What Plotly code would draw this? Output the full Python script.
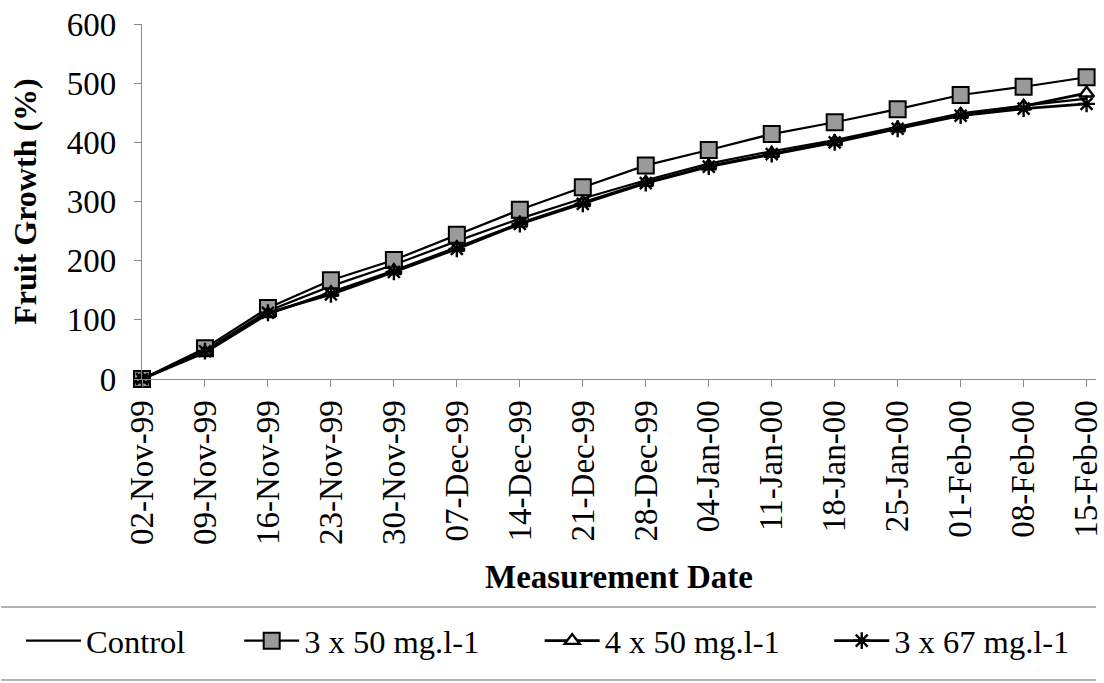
import plotly.graph_objects as go

# Measurement dates (category axis)
dates = ["02-Nov-99", "09-Nov-99", "16-Nov-99", "23-Nov-99", "30-Nov-99",
         "07-Dec-99", "14-Dec-99", "21-Dec-99", "28-Dec-99", "04-Jan-00",
         "11-Jan-00", "18-Jan-00", "25-Jan-00", "01-Feb-00", "08-Feb-00",
         "15-Feb-00"]

# Fruit growth (%) per treatment
control = [0, 48, 115, 157, 193, 233, 271, 305, 336, 364, 385, 404, 426, 449, 462, 474]
t3x50 = [0, 52, 120, 167, 201, 244, 286, 324, 361, 387, 414, 434, 456, 480, 494, 510]
t4x50 = [0, 45, 110, 146, 183, 222, 263, 298, 332, 360, 381, 401, 424, 447, 461, 483]
t3x67 = [0, 47, 112, 143, 181, 220, 262, 296, 331, 359, 380, 400, 423, 445, 457, 465]

y_ticks = [0, 100, 200, 300, 400, 500, 600]

FONT = "'Liberation Serif', 'Times New Roman', 'DejaVu Serif', serif"
W, H = 1104, 683
L, T, B = 142, 24, 304
plot_w = W - L
plot_h = H - T - B

fig = go.Figure()

fig.add_trace(go.Scatter(
    x=dates, y=control, name="Control", mode="lines",
    line=dict(color="black", width=2.2), cliponaxis=False, legend="legend"))
fig.add_trace(go.Scatter(
    x=dates, y=t3x50, name="3 x 50 mg.l-1", mode="lines+markers",
    line=dict(color="black", width=2.2),
    marker=dict(symbol="square", size=16, color="#9a9a9a",
                line=dict(color="black", width=2)),
    cliponaxis=False, legend="legend2"))
fig.add_trace(go.Scatter(
    x=dates, y=t4x50, name="4 x 50 mg.l-1", mode="lines+markers",
    line=dict(color="black", width=2.8),
    marker=dict(symbol="triangle-up", size=13, color="white",
                line=dict(color="black", width=2.4)),
    cliponaxis=False, legend="legend3"))
fig.add_trace(go.Scatter(
    x=dates, y=t3x67, name="3 x 67 mg.l-1", mode="lines+markers",
    line=dict(color="black", width=2.8),
    marker=dict(symbol="asterisk-open", size=14,
                line=dict(color="black", width=2.4)),
    cliponaxis=False, legend="legend4"))

step = 63.5
x_max = plot_w / step


def px_x(px):
    return (px - L) / plot_w


def px_y(py):
    return (H - B - py) / plot_h


leg_common = dict(orientation="h", yanchor="middle", xanchor="left",
                  font=dict(family=FONT, size=32.5, color="black"),
                  bgcolor="rgba(0,0,0,0)", itemwidth=55,
                  itemclick=False, itemdoubleclick=False)
leg_y = px_y(641)

fig.update_layout(
    width=W, height=H,
    margin=dict(l=L, r=0, t=T, b=B, pad=0),
    paper_bgcolor="white", plot_bgcolor="white",
    font=dict(family=FONT, size=33, color="black"),
    xaxis=dict(
        type="category", range=[0, x_max],
        showline=True, linecolor="#8a8a8a", linewidth=1.2,
        ticks="outside", ticklen=7, tickcolor="#8a8a8a", tickwidth=1.2,
        tickangle=-90, tickfont=dict(family=FONT, size=33, color="black"),
        showgrid=False, zeroline=False,
        title=dict(text="<b>Measurement Date</b>", standoff=20,
                   font=dict(family=FONT, size=33, color="black")),
    ),
    yaxis=dict(
        range=[0, 600], tickvals=y_ticks,
        showline=True, linecolor="#8a8a8a", linewidth=1.2,
        ticks="outside", ticklen=7, tickcolor="#8a8a8a", tickwidth=1.2,
        ticklabelstandoff=11,
        tickfont=dict(family=FONT, size=33, color="black"),
        showgrid=False, zeroline=False,
        title=dict(text="<b>Fruit Growth (%)</b>", standoff=20,
                   font=dict(family=FONT, size=32, color="black")),
    ),
    showlegend=True,
    legend=dict(x=px_x(20), y=leg_y, **leg_common),
    legend2=dict(x=px_x(240), y=leg_y, **leg_common),
    legend3=dict(x=px_x(543), y=leg_y, **leg_common),
    legend4=dict(x=px_x(835), y=leg_y, **leg_common),
    shapes=[
        dict(type="line", xref="paper", yref="paper",
             x0=px_x(0), x1=1, y0=px_y(607), y1=px_y(607),
             line=dict(color="#9a9a9a", width=1.5)),
        dict(type="line", xref="paper", yref="paper",
             x0=px_x(0), x1=1, y0=px_y(680), y1=px_y(680),
             line=dict(color="#9a9a9a", width=1.5)),
    ],
)

fig.write_html("out.html")
